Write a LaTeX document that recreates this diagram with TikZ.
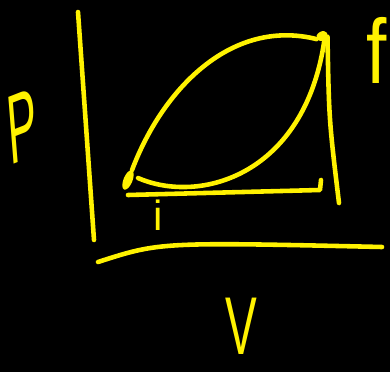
\documentclass[tikz,border=0pt]{standalone}
\usepackage{fontspec}
\setmainfont{Liberation Sans}
\usepackage{tikz}
\definecolor{InkYellow}{RGB}{255,242,0}
\usetikzlibrary{shapes.geometric}

\begin{document}
\begin{tikzpicture}[x=0.03cm, y=-0.03cm,
  ink/.style={draw=InkYellow, line width=3.9pt, line cap=round, line join=round},
  blob/.style={ellipse, fill=InkYellow, inner sep=0pt},
  hand/.style={text=InkYellow, inner sep=0pt}
]
% board
\fill[black] (0,0) rectangle (390,372);
\useasboundingbox (0,0) rectangle (390,372);

% axes
\coordinate (ptop) at (78,12);
\coordinate (pbot) at (94,240);
\coordinate (vleft) at (98,262);
\coordinate (vright) at (382,247);
\draw[ink] (ptop) -- (pbot);
\draw[ink] (vleft) .. controls (160,242) .. (vright);

\node[hand, font=\fontsize{84}{84}\selectfont, xscale=0.45, rotate=10] (labP) at (22,126) {P};
\node[hand, font=\fontsize{70}{70}\selectfont, xscale=0.58] (labV) at (241,326) {V};

% states
\node[blob, minimum width=0.62cm, minimum height=0.27cm, rotate=68] (i) at (128,180) {};
\node[blob, minimum width=0.36cm, minimum height=0.27cm, rotate=30] (f) at (322,36) {};
\node[hand, font=\fontsize{36}{36}\selectfont] (labi) at (158,215) {i};
\node[hand, font=\fontsize{78}{78}\selectfont, xscale=0.8] (labf) at (377,50) {f};

% paths i -> f
\draw[ink] (i.east) .. controls (163,88) and (232,18) .. (f.west);
\draw[ink] (138,178) .. controls (200,205) and (305,175) .. (f.south);

% isobaric then isochoric
\coordinate (ib) at (128,195);
\coordinate (corner) at (320,190);
\coordinate (fb) at (339,203);
\draw[ink] (ib) -- (corner) -- ++(1,-10);
\draw[ink] (f.south east) .. controls (329,120) .. (fb);
\end{tikzpicture}
\end{document}
